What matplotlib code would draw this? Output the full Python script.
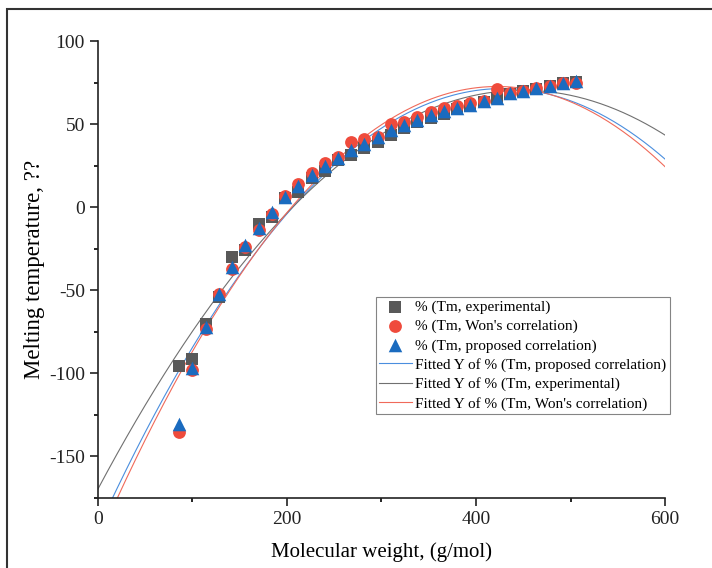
import numpy as np
import matplotlib
matplotlib.use("Agg")
import matplotlib.pyplot as plt
from matplotlib.patches import Rectangle
from matplotlib.ticker import MultipleLocator

# molecular weight of n-alkanes C6..C36 (g/mol)
mw = [86, 100, 114, 128, 142, 156, 170, 184, 198, 212, 226, 240, 254, 268, 282, 296,
      310, 324, 338, 352, 366, 380, 394, 408, 422, 436, 450, 464, 478, 492, 506]

tm_exp = [-95.5, -91.5, -70.5, -54.0, -30.0, -26.0, -10.0, -6.0, 5.5, 9.0, 17.5, 21.5,
          28.5, 31.5, 35.5, 39.5, 43.5, 47.5, 51.0, 53.5, 56.0, 59.0, 61.0, 63.5, 65.8,
          68.0, 70.0, 71.0, 73.0, 74.8, 75.5]

tm_won = [-135.5, -98.0, -73.0, -52.0, -37.0, -24.0, -13.5, -4.0, 6.5, 14.0, 20.5, 26.5,
          30.0, 39.5, 41.0, 42.0, 50.0, 51.0, 54.0, 57.5, 59.5, 61.0, 62.5, 64.0, 71.0,
          69.0, 70.0, 71.5, 73.0, 74.5, 75.0]

tm_prop = [-130.5, -97.0, -72.0, -52.5, -36.0, -23.0, -12.5, -2.8, 6.0, 12.5, 19.4, 24.8,
           29.5, 34.5, 38.0, 42.0, 46.5, 49.5, 52.5, 55.5, 58.0, 59.7, 61.7, 63.7, 65.8,
           68.5, 69.8, 71.5, 72.8, 74.5, 76.0]

c_exp = "#595959"
c_won = "#ef4b3c"
c_prop = "#1a6bbf"

plt.rcParams["font.family"] = ["Liberation Serif", "DejaVu Serif"]
plt.rcParams["axes.unicode_minus"] = False

fig = plt.figure(figsize=(7.12, 5.68), dpi=100)
ax = fig.add_axes([0.1376, 0.1232, 0.7964, 0.8046])

# quadratic fits, as in the original figure
xs = np.linspace(0, 600, 300)
fit_prop = np.polyval(np.polyfit(mw, tm_prop, 2), xs)
fit_exp = np.polyval(np.polyfit(mw, tm_exp, 2), xs)
fit_won = np.polyval(np.polyfit(mw, tm_won, 2), xs)

h_exp = ax.scatter(mw, tm_exp, marker="s", s=70, color=c_exp, lw=0, zorder=3)
h_won = ax.scatter(mw, tm_won, marker="o", s=85, color=c_won, lw=0, zorder=4)
h_prop = ax.scatter(mw, tm_prop, marker="^", s=95, color=c_prop, lw=0, zorder=5)
l_prop, = ax.plot(xs, fit_prop, color="#4a8ede", lw=0.8, zorder=2)
l_exp, = ax.plot(xs, fit_exp, color="#707070", lw=0.8, zorder=2)
l_won, = ax.plot(xs, fit_won, color="#f06a5a", lw=0.8, zorder=2)

ax.set_xlim(0, 600)
ax.set_ylim(-175, 100)
ax.xaxis.set_major_locator(MultipleLocator(200))
ax.xaxis.set_minor_locator(MultipleLocator(100))
ax.yaxis.set_major_locator(MultipleLocator(50))
ax.yaxis.set_minor_locator(MultipleLocator(25))
ax.tick_params(which="major", direction="out", length=6, width=1.2, labelsize=14,
               colors="#222222")
ax.tick_params(which="minor", direction="out", length=3, width=1.2)
for side in ["top", "right"]:
    ax.spines[side].set_visible(False)
for side in ["left", "bottom"]:
    ax.spines[side].set_linewidth(1.2)
    ax.spines[side].set_color("#222222")

ax.set_xlabel("Molecular weight, (g/mol)", fontsize=15, labelpad=10)
ax.set_ylabel("Melting temperature, ??", fontsize=16.5, labelpad=3)

leg = ax.legend([h_exp, h_won, h_prop, l_prop, l_exp, l_won],
                ["% (Tm, experimental)", "% (Tm, Won's correlation)",
                 "% (Tm, proposed correlation)",
                 "Fitted Y of % (Tm, proposed correlation)",
                 "Fitted Y of % (Tm, experimental)",
                 "Fitted Y of % (Tm, Won's correlation)"],
                loc="lower left", bbox_to_anchor=(0.491, 0.184), fontsize=11,
                frameon=True, fancybox=False, edgecolor="#666666",
                handlelength=2.1, handletextpad=0.25, labelspacing=0.36,
                borderpad=0.2, borderaxespad=0)
leg.get_frame().set_linewidth(0.8)

# outer frame of the original figure
fig.patches.append(Rectangle((7 / 712, -0.5), 2, 0.5 + 1 - 9 / 568,
                             transform=fig.transFigure, fill=False,
                             edgecolor="#333333", lw=1.5, clip_on=False))

fig.savefig("out.png", dpi=100)
